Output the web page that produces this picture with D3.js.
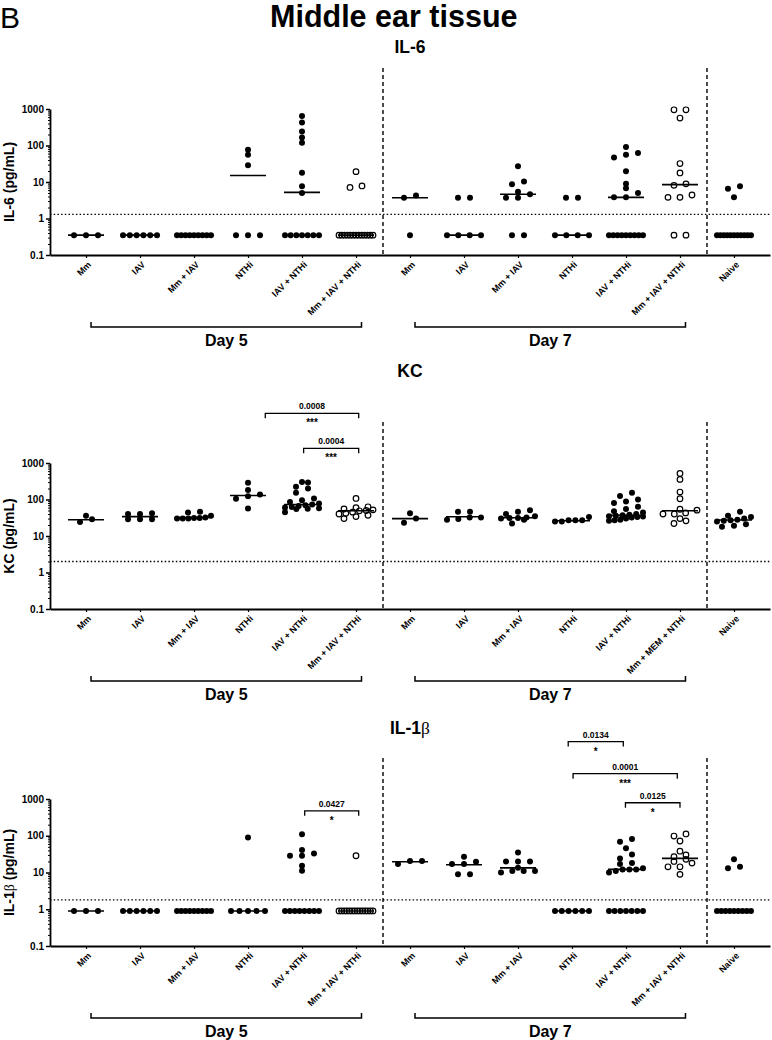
<!DOCTYPE html>
<html><head><meta charset="utf-8">
<script src="https://cdn.jsdelivr.net/npm/d3@7"></script>
<style>
body{margin:0;background:#fff}
svg{display:block}
text{font-family:"Liberation Sans",Arial,Helvetica,sans-serif}
</style>
</head><body>
<svg id="chart" width="772" height="1040"></svg>
<script>
// ---------------- DATA ----------------
const categoriesStd = ["Mm","IAV","Mm + IAV","NTHi","IAV + NTHi","Mm + IAV + NTHi",
                       "Mm","IAV","Mm + IAV","NTHi","IAV + NTHi","Mm + IAV + NTHi","Naive"];
const categoriesKC  = ["Mm","IAV","Mm + IAV","NTHi","IAV + NTHi","Mm + IAV + NTHi",
                       "Mm","IAV","Mm + IAV","NTHi","IAV + NTHi","Mm + MEM + NTHi","Naive"];
const dayGroups = [{label:"Day 5", from:0, to:5}, {label:"Day 7", from:6, to:11}];
const dividerAfter = [5, 11];
const openGroups = [5, 11];
const yTickValues = [0.1, 1, 10, 100, 1000];
const yTickLabels = ["0.1", "1", "10", "100", "1000"];

// IL-6 (pg/mL)
const il6Values = [
  [0.35,0.35,0.35],
  [0.35,0.35,0.35,0.35,0.35,0.35],
  [0.35,0.35,0.35,0.35,0.35,0.35,0.35,0.35,0.35],
  [77,56,28.6,0.35,0.35,0.35],
  [640,427,243,166,119,18,7.6,5.0,0.35,0.35,0.35,0.35,0.35,0.35,0.35],
  [19.2,7.8,7.1,0.35,0.35,0.35,0.35,0.35,0.35,0.35,0.35,0.35,0.35,0.35,0.35,0.35],
  [4.3,3.7,0.35],
  [3.7,3.7,0.35,0.35,0.35,0.35],
  [26.8,10.3,8.7,5.4,4.6,3.7,3.7,0.35,0.35],
  [3.7,3.7,0.35,0.35,0.35,0.35],
  [91,62,56,47,19.6,8.9,6.7,5.0,3.8,3.8,0.35,0.35,0.35,0.35,0.35,0.35,0.35,0.35,0.35],
  [950,950,565,32,17.7,8.9,8.1,4.4,3.8,3.8,0.35,0.35],
  [7.6,6.5,3.8,0.35,0.35,0.35,0.35,0.35,0.35,0.35,0.35,0.35,0.35,0.35]
];
const il6Medians = [0.35,0.35,0.35,15,5.2,0.35,3.7,0.35,4.6,0.35,3.8,8.5,0.35];
const il6Lod = 1.3;
const il6Brackets = [];

// KC (pg/mL)
const kcValues = [
  [36,28.6,24],
  [40,40,42,28.6,28.6,28.6],
  [46,44,36,32,31,31,30,30,30],
  [286,181,138,122,105,57],
  [303,290,222,200,152,107,95,85,78,73,70,66,62,60,58,56,55,45],
  [107,63,60,55,52,50,49,45,42,40,37,34,30],
  [42,30,23],
  [46,46,32,32,29,28],
  [51,46,40,35,32,31,31,30,28,22],
  [33,27,27,27,25,25],
  [152,124,100,88,80,63,55,48,44,40,38,37,36,35,34,33,32,30,28,27,26],
  [515,355,160,105,54,51,43,40,40,30,26,22],
  [46,36,33,30,28,27,26,25,21,19,18]
];
const kcMedians = [28,34,32,129,73,49,30,33.6,31.6,26.2,36.7,49,27.4];
const kcLod = 2.0;
const kcBrackets = [
  {from:3.32, to:5.05, at:22900, p:"0.0008", stars:"***"},
  {from:4.03, to:5.05, at:2520,  p:"0.0004", stars:"***"}
];

// IL-1β (pg/mL)
const il1bValues = [
  [0.9,0.9,0.9],
  [0.9,0.9,0.9,0.9,0.9,0.9],
  [0.9,0.9,0.9,0.9,0.9,0.9,0.9,0.9,0.9],
  [89,0.9,0.9,0.9,0.9,0.9],
  [110,41,33,28.6,28.6,15.2,11.1,0.9,0.9,0.9,0.9,0.9,0.9,0.9,0.9],
  [28.6,0.9,0.9,0.9,0.9,0.9,0.9,0.9,0.9,0.9,0.9,0.9,0.9,0.9,0.9],
  [20.4,20.4,17],
  [27,19.6,17,17,8.9,8.9],
  [35,20,20,20,13.4,11,11,11,10],
  [0.9,0.9,0.9,0.9,0.9,0.9],
  [81,69,46,31,24,18,17,13,12,12,12,11,10,0.9,0.9,0.9,0.9,0.9,0.9,0.9],
  [112,98,72,38,30,27,22.8,20,18,14.3,14.3,8.9],
  [23,14.3,13,0.9,0.9,0.9,0.9,0.9,0.9,0.9,0.9,0.9]
];
const il1bMedians = [0.9,0.9,0.9,0.9,0.9,0.9,19.6,16.2,13.4,0.9,12.2,24.3,0.9];
const il1bLod = 1.8;
const il1bBrackets = [
  {from:4.05, to:5.05, at:477,   p:"0.0427", stars:"*"},
  {from:8.93, to:9.95, at:36500, p:"0.0134", stars:"*"},
  {from:9.02, to:10.95,at:4900,  p:"0.0001", stars:"***"},
  {from:9.99, to:11.0, at:790,   p:"0.0125", stars:"*"}
];

// ---------------- LAYOUT ----------------
const panels = [
  {title:"IL-6", beta:false, ylab:"IL-6 (pg/mL)", cats:categoriesStd, values:il6Values, medians:il6Medians, lod:il6Lod, brackets:il6Brackets, top:109, bottom:255, titleY:53},
  {title:"KC", beta:false, ylab:"KC (pg/mL)", cats:categoriesKC, values:kcValues, medians:kcMedians, lod:kcLod, brackets:kcBrackets, top:463, bottom:609, titleY:377},
  {title:"IL-1", beta:true, ylab:"IL-1", cats:categoriesStd, values:il1bValues, medians:il1bMedians, lod:il1bLod, brackets:il1bBrackets, top:799, bottom:946, titleY:734}
];

const svg = d3.select("#chart");
const X0 = 50, X1 = 770;
const x = d3.scalePoint().domain(d3.range(13)).range([X0, X1]).padding(0.667);
const step = x.step();
const xi = v => x(0) + v * step;   // fractional index position

svg.append("text").attr("x", 0).attr("y", 28).attr("font-size", 30).text("B");
svg.append("text").attr("x", 270).attr("y", 27).attr("font-size", 30.5).attr("font-weight", "bold").text("Middle ear tissue");

function addBeta(sel, rest) {
  sel.append("tspan").attr("font-family", "'Liberation Serif','DejaVu Serif',serif").attr("font-weight", "normal").text("β");
  if (rest) sel.append("tspan").text(rest);
}

panels.forEach(P => {
  const g = svg.append("g");
  const y = d3.scaleLog().domain([0.1, 1000]).range([P.bottom, P.top]);

  // title
  const t = g.append("text").attr("x", 410).attr("y", P.titleY).attr("text-anchor", "middle")
    .attr("font-size", 17.5).attr("font-weight", "bold").text(P.title);
  if (P.beta) addBeta(t, null);

  // y label
  const yl = g.append("text").attr("transform", `translate(14,${(P.top + P.bottom) / 2}) rotate(-90)`)
    .attr("text-anchor", "middle").attr("font-size", 14).attr("font-weight", "bold").text(P.ylab);
  if (P.beta) addBeta(yl, " (pg/mL)");

  // dividers
  dividerAfter.forEach(i => {
    g.append("line").attr("x1", xi(i + 0.5)).attr("x2", xi(i + 0.5))
      .attr("y1", P.top - 41).attr("y2", P.bottom)
      .attr("stroke", "#000").attr("stroke-width", 1.4).attr("stroke-dasharray", "4,3");
  });

  // LOD dotted
  g.append("line").attr("x1", X0).attr("x2", X1).attr("y1", y(P.lod)).attr("y2", y(P.lod))
    .attr("stroke", "#000").attr("stroke-width", 1.3).attr("stroke-dasharray", "1.5,2.2");

  // y axis: minor ticks
  const minor = y.ticks().filter(v => !yTickValues.some(m => Math.abs(m - v) < 1e-9));
  g.append("g").attr("transform", `translate(${X0},0)`)
    .call(d3.axisLeft(y).tickValues(minor).tickSize(2).tickFormat("").tickSizeOuter(0))
    .call(a => a.select(".domain").remove())
    .selectAll("line").attr("stroke-width", 1);
  const ya = g.append("g").attr("transform", `translate(${X0},0)`)
    .call(d3.axisLeft(y).tickValues(yTickValues).tickFormat((d, i) => yTickLabels[i]).tickSize(4).tickSizeOuter(0).tickPadding(2));
  ya.select(".domain").attr("stroke-width", 1.8);
  ya.selectAll("line").attr("stroke-width", 1.5);
  ya.selectAll("text").attr("font-size", 10).attr("font-weight", "bold")
    .attr("font-family", "'Liberation Sans',Arial,sans-serif").attr("fill", "#000");

  // x axis
  const xa = g.append("g").attr("transform", `translate(0,${P.bottom})`)
    .call(d3.axisBottom(x).tickFormat(i => P.cats[i]).tickSize(3).tickSizeOuter(0));
  xa.select(".domain").attr("stroke-width", 2);
  xa.selectAll("line").attr("stroke-width", 1.2);
  xa.selectAll("text").attr("font-size", 9).attr("font-weight", "bold")
    .attr("font-family", "'Liberation Sans',Arial,sans-serif").attr("fill", "#000")
    .attr("text-anchor", "end").attr("dy", "0.35em")
    .attr("transform", "translate(3,8) rotate(-45)").attr("x", 0).attr("y", 0);

  // points (row-based scatter like GraphPad)
  P.values.forEach((vals, gi) => {
    const cx = x(gi);
    const pts = vals.map(v => ({v, y: y(v)})).sort((a, b) => b.y - a.y);
    const rows = [];
    pts.forEach(p => {
      const r = rows[rows.length - 1];
      if (r && Math.abs(p.y - r[0].y) <= 4.5) r.push(p); else rows.push([p]);
    });
    rows.forEach(r => {
      const n = r.length;
      const s = n > 1 ? Math.min(12, 34 / (n - 1)) : 0;
      r.forEach((p, i) => { p.x = cx + (i - (n - 1) / 2) * s; });
    });
    const open = openGroups.includes(gi);
    g.append("g").selectAll("circle").data(pts).join("circle")
      .attr("cx", d => d.x).attr("cy", d => d.y)
      .attr("r", open ? 2.8 : 3)
      .attr("fill", open ? "none" : "#000")
      .attr("stroke", "#000").attr("stroke-width", open ? 1.2 : 0);
    const m = P.medians[gi];
    if (m != null) {
      g.append("line").attr("x1", cx - 18).attr("x2", cx + 18).attr("y1", y(m)).attr("y2", y(m))
        .attr("stroke", "#000").attr("stroke-width", 1.6);
    }
  });

  // significance brackets
  P.brackets.forEach(b => {
    const yb = y(b.at), x1 = xi(b.from), x2 = xi(b.to);
    g.append("path").attr("d", `M${x1},${yb + 5}V${yb}H${x2}V${yb + 5}`)
      .attr("fill", "none").attr("stroke", "#000").attr("stroke-width", 1.3);
    g.append("text").attr("x", (x1 + x2) / 2).attr("y", yb - 4).attr("text-anchor", "middle")
      .attr("font-size", 8.5).attr("font-weight", "bold").text(b.p);
    g.append("text").attr("x", (x1 + x2) / 2).attr("y", yb + 13).attr("text-anchor", "middle")
      .attr("font-size", 10).attr("font-weight", "bold").text(b.stars);
  });

  // day brackets
  dayGroups.forEach(d => {
    const yb = P.bottom + 72, x1 = x(d.from) + 5, x2 = x(d.to) + 5.5;
    g.append("path").attr("d", `M${x1},${yb - 5}V${yb}H${x2}V${yb - 5}`)
      .attr("fill", "none").attr("stroke", "#000").attr("stroke-width", 1.5);
    g.append("text").attr("x", (x1 + x2) / 2).attr("y", yb + 19).attr("text-anchor", "middle")
      .attr("font-size", 16).attr("font-weight", "bold").text(d.label);
  });
});
</script>
</body></html>
